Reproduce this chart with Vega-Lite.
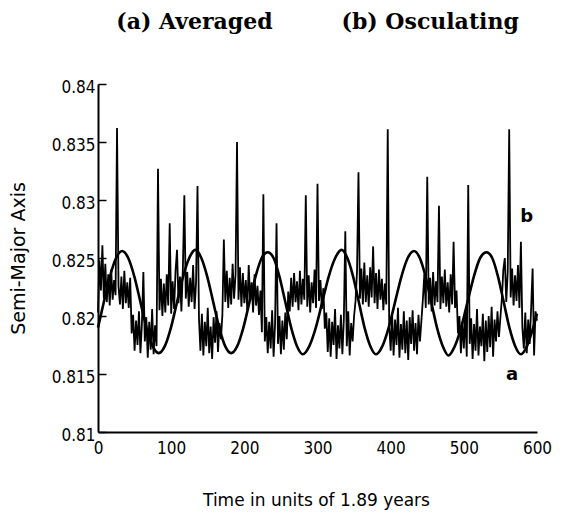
{
  "$schema": "https://vega.github.io/schema/vega-lite/v6.json",
  "width": 439,
  "height": 348,
  "autosize": "none",
  "padding": {"left": 98, "top": 84, "right": 38, "bottom": 85},
  "background": "white",
  "title": {
    "text": "(a) Averaged\u00a0\u00a0\u00a0\u00a0\u00a0\u00a0\u00a0\u00a0\u00a0(b) Osculating",
    "font": "DejaVu Serif",
    "fontWeight": "bold",
    "fontSize": 22,
    "color": "black",
    "anchor": "middle",
    "frame": "group",
    "baseline": "alphabetic",
    "offset": 27
  },
  "config": {
    "view": {"stroke": null},
    "axis": {"grid": false, "domainColor": "black", "domainWidth": 2, "tickColor": "black", "labelColor": "black", "titleColor": "black"}
  },
  "datasets": {
    "a": [
      {"t":0,"v":0.8190},{"t":8,"v":0.8212},{"t":16.3,"v":0.8234},{"t":24.7,"v":0.8250},{"t":33,"v":0.8256},
      {"t":41.3,"v":0.8250},{"t":49.7,"v":0.8234},{"t":58,"v":0.8212},{"t":66.3,"v":0.8190},{"t":74.7,"v":0.8174},{"t":83,"v":0.8168},
      {"t":91.3,"v":0.8174},{"t":99.7,"v":0.8190},{"t":108,"v":0.8212},{"t":116.3,"v":0.8234},{"t":124.7,"v":0.8250},{"t":133,"v":0.8257},
      {"t":141.2,"v":0.8250},{"t":149.3,"v":0.8234},{"t":157.5,"v":0.8212},{"t":165.7,"v":0.8190},{"t":173.8,"v":0.8174},{"t":182,"v":0.8168},
      {"t":190.3,"v":0.8174},{"t":198.7,"v":0.8190},{"t":207,"v":0.8212},{"t":215.3,"v":0.8234},{"t":223.7,"v":0.8250},{"t":232,"v":0.8255},
      {"t":240,"v":0.8250},{"t":248,"v":0.8234},{"t":256,"v":0.8212},{"t":264,"v":0.8190},{"t":272,"v":0.8174},{"t":280,"v":0.8167},
      {"t":288.8,"v":0.8174},{"t":297.7,"v":0.8190},{"t":306.5,"v":0.8212},{"t":315.3,"v":0.8234},{"t":324.2,"v":0.8250},{"t":333,"v":0.8257},
      {"t":340.8,"v":0.8250},{"t":348.7,"v":0.8234},{"t":356.5,"v":0.8212},{"t":364.3,"v":0.8190},{"t":372.2,"v":0.8174},{"t":380,"v":0.8167},
      {"t":388.7,"v":0.8174},{"t":397.3,"v":0.8190},{"t":406,"v":0.8212},{"t":414.7,"v":0.8234},{"t":423.3,"v":0.8250},{"t":432,"v":0.8256},
      {"t":439.8,"v":0.8250},{"t":447.7,"v":0.8234},{"t":455.5,"v":0.8212},{"t":463.3,"v":0.8190},{"t":471.2,"v":0.8174},{"t":479,"v":0.8166},
      {"t":487.7,"v":0.8174},{"t":496.3,"v":0.8190},{"t":505,"v":0.8212},{"t":513.7,"v":0.8234},{"t":522.3,"v":0.8250},{"t":531,"v":0.8255},
      {"t":538.8,"v":0.8250},{"t":546.7,"v":0.8234},{"t":554.5,"v":0.8212},{"t":562.3,"v":0.8190},{"t":570.2,"v":0.8174},{"t":578,"v":0.8167},
      {"t":586.3,"v":0.8174},{"t":594.7,"v":0.8190},{"t":600,"v":0.8202}
    ],
    "b": [
      {"t":0,"v":0.8203},{"t":2,"v":0.8248},{"t":4,"v":0.8222},{"t":6,"v":0.8261},{"t":8,"v":0.8215},{"t":10,"v":0.8245},{"t":12,"v":0.8212},{"t":14,"v":0.8236},{"t":16,"v":0.8209},{"t":18,"v":0.8240},
      {"t":20,"v":0.8214},{"t":22,"v":0.8231},{"t":24,"v":0.8218},{"t":26,"v":0.8362},{"t":28,"v":0.8226},{"t":30,"v":0.8210},{"t":32,"v":0.8234},{"t":34,"v":0.8206},{"t":36,"v":0.8239},{"t":38,"v":0.8211},
      {"t":40,"v":0.8229},{"t":42,"v":0.8207},{"t":44,"v":0.8233},{"t":46,"v":0.8185},{"t":48,"v":0.8201},{"t":50,"v":0.8170},{"t":52,"v":0.8196},{"t":54,"v":0.8175},{"t":56,"v":0.8204},{"t":58,"v":0.8168},
      {"t":60,"v":0.8193},{"t":62,"v":0.8238},{"t":64,"v":0.8178},{"t":66,"v":0.8199},{"t":68,"v":0.8164},{"t":70,"v":0.8195},{"t":72,"v":0.8171},{"t":74,"v":0.8206},{"t":76,"v":0.8167},{"t":78,"v":0.8192},
      {"t":80,"v":0.8174},{"t":82,"v":0.8327},{"t":84,"v":0.8205},{"t":86,"v":0.8232},{"t":88,"v":0.8200},{"t":90,"v":0.8228},{"t":92,"v":0.8203},{"t":94,"v":0.8236},{"t":96,"v":0.8209},{"t":98,"v":0.8280},
      {"t":100,"v":0.8202},{"t":102,"v":0.8230},{"t":104,"v":0.8206},{"t":106,"v":0.8239},{"t":108,"v":0.8257},{"t":110,"v":0.8211},{"t":112,"v":0.8234},{"t":114,"v":0.8204},{"t":116,"v":0.8241},{"t":118,"v":0.8304},
      {"t":120,"v":0.8215},{"t":122,"v":0.8238},{"t":124,"v":0.8208},{"t":126,"v":0.8233},{"t":128,"v":0.8212},{"t":130,"v":0.8244},{"t":132,"v":0.8206},{"t":134,"v":0.8229},{"t":136,"v":0.8312},{"t":138,"v":0.8198},
      {"t":140,"v":0.8170},{"t":142,"v":0.8202},{"t":144,"v":0.8166},{"t":146,"v":0.8195},{"t":148,"v":0.8174},{"t":150,"v":0.8207},{"t":152,"v":0.8168},{"t":154,"v":0.8191},{"t":156,"v":0.8163},{"t":158,"v":0.8199},
      {"t":160,"v":0.8177},{"t":162,"v":0.8204},{"t":164,"v":0.8169},{"t":166,"v":0.8194},{"t":168,"v":0.8180},{"t":170,"v":0.8201},{"t":172,"v":0.8266},{"t":174,"v":0.8212},{"t":176,"v":0.8239},{"t":178,"v":0.8207},
      {"t":180,"v":0.8233},{"t":182,"v":0.8210},{"t":184,"v":0.8245},{"t":186,"v":0.8215},{"t":188,"v":0.8236},{"t":190,"v":0.8350},{"t":192,"v":0.8214},{"t":194,"v":0.8242},{"t":196,"v":0.8208},{"t":198,"v":0.8237},
      {"t":200,"v":0.8211},{"t":202,"v":0.8231},{"t":204,"v":0.8205},{"t":206,"v":0.8244},{"t":208,"v":0.8213},{"t":210,"v":0.8229},{"t":212,"v":0.8203},{"t":214,"v":0.8236},{"t":216,"v":0.8209},{"t":218,"v":0.8226},
      {"t":220,"v":0.8201},{"t":222,"v":0.8222},{"t":224,"v":0.8186},{"t":226,"v":0.8305},{"t":228,"v":0.8178},{"t":230,"v":0.8199},{"t":232,"v":0.8168},{"t":234,"v":0.8195},{"t":236,"v":0.8172},{"t":238,"v":0.8205},
      {"t":240,"v":0.8165},{"t":242,"v":0.8193},{"t":244,"v":0.8280},{"t":246,"v":0.8176},{"t":248,"v":0.8200},{"t":250,"v":0.8167},{"t":252,"v":0.8196},{"t":254,"v":0.8171},{"t":256,"v":0.8203},{"t":258,"v":0.8180},
      {"t":260,"v":0.8221},{"t":262,"v":0.8204},{"t":264,"v":0.8233},{"t":266,"v":0.8208},{"t":268,"v":0.8237},{"t":270,"v":0.8212},{"t":272,"v":0.8230},{"t":274,"v":0.8205},{"t":276,"v":0.8239},{"t":278,"v":0.8210},
      {"t":280,"v":0.8232},{"t":282,"v":0.8214},{"t":284,"v":0.8304},{"t":286,"v":0.8208},{"t":288,"v":0.8235},{"t":290,"v":0.8203},{"t":292,"v":0.8229},{"t":294,"v":0.8211},{"t":296,"v":0.8240},{"t":298,"v":0.8207},
      {"t":300,"v":0.8314},{"t":302,"v":0.8213},{"t":304,"v":0.8231},{"t":306,"v":0.8206},{"t":308,"v":0.8224},{"t":310,"v":0.8189},{"t":312,"v":0.8203},{"t":314,"v":0.8169},{"t":316,"v":0.8198},{"t":318,"v":0.8165},
      {"t":320,"v":0.8195},{"t":322,"v":0.8175},{"t":324,"v":0.8206},{"t":326,"v":0.8163},{"t":328,"v":0.8192},{"t":330,"v":0.8172},{"t":332,"v":0.8201},{"t":334,"v":0.8167},{"t":336,"v":0.8197},{"t":338,"v":0.8273},
      {"t":340,"v":0.8174},{"t":342,"v":0.8204},{"t":344,"v":0.8166},{"t":346,"v":0.8194},{"t":348,"v":0.8178},{"t":350,"v":0.8200},{"t":352,"v":0.8213},{"t":354,"v":0.8238},{"t":356,"v":0.8324},{"t":358,"v":0.8215},
      {"t":360,"v":0.8241},{"t":362,"v":0.8210},{"t":364,"v":0.8246},{"t":366,"v":0.8212},{"t":368,"v":0.8235},{"t":370,"v":0.8208},{"t":372,"v":0.8242},{"t":374,"v":0.8216},{"t":376,"v":0.8260},{"t":378,"v":0.8211},
      {"t":380,"v":0.8237},{"t":382,"v":0.8206},{"t":384,"v":0.8240},{"t":386,"v":0.8214},{"t":388,"v":0.8232},{"t":390,"v":0.8205},{"t":392,"v":0.8228},{"t":394,"v":0.8210},{"t":396,"v":0.8361},{"t":398,"v":0.8192},
      {"t":400,"v":0.8170},{"t":402,"v":0.8201},{"t":404,"v":0.8166},{"t":406,"v":0.8197},{"t":408,"v":0.8175},{"t":410,"v":0.8207},{"t":412,"v":0.8164},{"t":414,"v":0.8193},{"t":416,"v":0.8171},{"t":418,"v":0.8204},
      {"t":420,"v":0.8168},{"t":422,"v":0.8196},{"t":424,"v":0.8162},{"t":426,"v":0.8199},{"t":428,"v":0.8176},{"t":430,"v":0.8205},{"t":432,"v":0.8170},{"t":434,"v":0.8194},{"t":436,"v":0.8167},{"t":438,"v":0.8201},
      {"t":440,"v":0.8178},{"t":442,"v":0.8196},{"t":444,"v":0.8214},{"t":446,"v":0.8236},{"t":448,"v":0.8207},{"t":450,"v":0.8320},{"t":452,"v":0.8210},{"t":454,"v":0.8233},{"t":456,"v":0.8204},{"t":458,"v":0.8238},
      {"t":460,"v":0.8209},{"t":462,"v":0.8230},{"t":464,"v":0.8212},{"t":466,"v":0.8295},{"t":468,"v":0.8206},{"t":470,"v":0.8234},{"t":472,"v":0.8211},{"t":474,"v":0.8240},{"t":476,"v":0.8208},{"t":478,"v":0.8229},
      {"t":480,"v":0.8203},{"t":482,"v":0.8236},{"t":484,"v":0.8210},{"t":486,"v":0.8264},{"t":488,"v":0.8207},{"t":490,"v":0.8222},{"t":492,"v":0.8185},{"t":494,"v":0.8200},{"t":496,"v":0.8168},{"t":498,"v":0.8195},
      {"t":500,"v":0.8172},{"t":502,"v":0.8204},{"t":504,"v":0.8165},{"t":506,"v":0.8313},{"t":508,"v":0.8176},{"t":510,"v":0.8198},{"t":512,"v":0.8163},{"t":514,"v":0.8193},{"t":516,"v":0.8170},{"t":518,"v":0.8206},
      {"t":520,"v":0.8166},{"t":522,"v":0.8191},{"t":524,"v":0.8174},{"t":526,"v":0.8202},{"t":528,"v":0.8161},{"t":530,"v":0.8196},{"t":532,"v":0.8169},{"t":534,"v":0.8200},{"t":536,"v":0.8173},{"t":538,"v":0.8208},
      {"t":540,"v":0.8165},{"t":542,"v":0.8197},{"t":544,"v":0.8178},{"t":546,"v":0.8204},{"t":548,"v":0.8182},{"t":550,"v":0.8199},{"t":552,"v":0.8215},{"t":554,"v":0.8240},{"t":556,"v":0.8250},{"t":558,"v":0.8212},
      {"t":560,"v":0.8238},{"t":562,"v":0.8361},{"t":564,"v":0.8216},{"t":566,"v":0.8241},{"t":568,"v":0.8209},{"t":570,"v":0.8235},{"t":572,"v":0.8213},{"t":574,"v":0.8244},{"t":576,"v":0.8207},{"t":578,"v":0.8264},
      {"t":580,"v":0.8190},{"t":582,"v":0.8172},{"t":584,"v":0.8203},{"t":586,"v":0.8168},{"t":588,"v":0.8197},{"t":590,"v":0.8176},{"t":592,"v":0.8207},{"t":594,"v":0.8241},{"t":596,"v":0.8166},{"t":598,"v":0.8204},
      {"t":600,"v":0.8196}
    ],
    "lab": [
      {"t":586,"v":0.8285,"s":"b"},
      {"t":566,"v":0.8149,"s":"a"}
    ]
  },
  "layer": [
    {
      "data": {"name": "a"},
      "mark": {"type": "line", "interpolate": "monotone", "color": "black", "strokeWidth": 2.6},
      "encoding": {
        "x": {
          "field": "t", "type": "quantitative",
          "scale": {"domain": [0, 600], "nice": false, "zero": false},
          "axis": {
            "values": [0, 100, 200, 300, 400, 500, 600],
            "ticks": false,
            "labelFont": "DejaVu Sans Condensed, Liberation Sans",
            "labelFontSize": 17,
            "labelPadding": 8,
            "labelFlush": false,
            "labelOverlap": false,
            "title": "Time in units of 1.89 years",
            "titleFont": "DejaVu Sans",
            "titleFontSize": 17,
            "titleFontWeight": "normal",
            "titleX": 218,
            "titleY": 68,
            "titleBaseline": "middle"
          }
        },
        "y": {
          "field": "v", "type": "quantitative",
          "scale": {"domain": [0.81, 0.84], "nice": false, "zero": false},
          "axis": {
            "values": [0.81, 0.815, 0.82, 0.825, 0.83, 0.835, 0.84],
            "format": ".3~f",
            "tickSize": -8,
            "tickWidth": 1.5,
            "labelFont": "DejaVu Sans Condensed, Liberation Sans",
            "labelFontSize": 17,
            "labelPadding": 11,
            "labelOffset": 3,
            "labelOverlap": false,
            "labelFlush": false,
            "title": "Semi-Major Axis",
            "titleFont": "DejaVu Sans",
            "titleFontSize": 19,
            "titleFontWeight": "normal",
            "titleX": -80,
            "titleY": 174,
            "titleBaseline": "middle"
          }
        }
      }
    },
    {
      "data": {"name": "b"},
      "mark": {"type": "line", "color": "black", "strokeWidth": 1.8},
      "encoding": {
        "x": {"field": "t", "type": "quantitative"},
        "y": {"field": "v", "type": "quantitative"}
      }
    },
    {
      "data": {"name": "lab"},
      "mark": {"type": "text", "font": "DejaVu Sans", "fontWeight": "bold", "fontSize": 18, "color": "black", "align": "center", "baseline": "middle"},
      "encoding": {
        "x": {"field": "t", "type": "quantitative"},
        "y": {"field": "v", "type": "quantitative"},
        "text": {"field": "s"}
      }
    }
  ]
}
